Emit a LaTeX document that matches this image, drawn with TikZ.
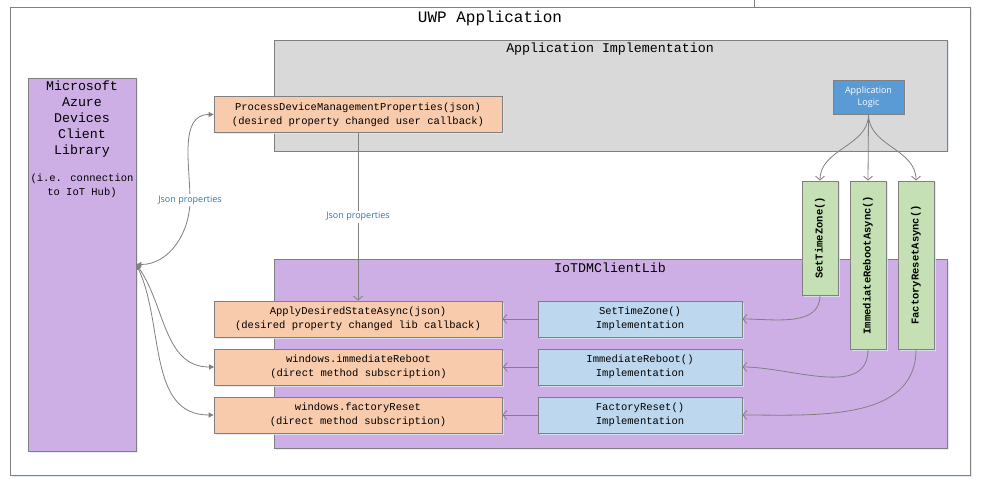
\documentclass[tikz,border=0pt]{standalone}
\usepackage{fontspec}
\setmainfont{Liberation Mono}
\newfontfamily\uilabelfont{Open Sans}
\usetikzlibrary{arrows.meta,shadows}
\definecolor{linegray}{HTML}{808080}
\definecolor{implgray}{HTML}{D9D9D9}
\definecolor{libpurple}{HTML}{CDAFE6}
\definecolor{cborange}{HTML}{F8CBAD}
\definecolor{implblue}{HTML}{BDD7EE}
\definecolor{apigreen}{HTML}{C5E0B4}
\definecolor{logicblue}{HTML}{5B9BD5}
\definecolor{jsonblue}{HTML}{2E75B6}
\definecolor{shadowblue}{HTML}{DCE6F2}
\newcommand\cfont{\fontsize{10.5}{14}\selectfont}
\newcommand\hfont{\fontsize{13.3}{16}\selectfont}
\newcommand\bigtitlefont{\fontsize{16}{18}\selectfont}
\tikzset{
  shbox/.style={draw=linegray, line width=0.8pt, inner sep=0pt, align=center,
    drop shadow={shadow xshift=1.5pt, shadow yshift=-1.5pt, fill=shadowblue, opacity=0.8}},
  cbbox/.style={shbox, fill=cborange, minimum width=288pt, minimum height=36pt, font=\cfont},
  implbox/.style={shbox, fill=implblue, minimum width=204pt, minimum height=36pt, font=\cfont},
  apibox/.style={shbox, fill=apigreen, minimum width=36pt, font=\cfont\bfseries},
  conn/.style={draw=linegray, line width=0.8pt},
  barb/.style={-{Straight Barb[length=4pt,width=9pt]}},
  dtri/.style={{Triangle[length=5pt,width=5pt]}-{Triangle[length=5pt,width=5pt]}},
  jsonlbl/.style={font=\uilabelfont\fontsize{9}{11}\selectfont, text=jsonblue, fill=white, inner sep=1.5pt}
}
\begin{document}
\begin{tikzpicture}[x=1pt,y=1pt]
\useasboundingbox (0,0) rectangle (981,-486);
\fill[white] (0,0) rectangle (981,-486);
% outer frame
\draw[linegray, line width=0.8pt] (754,0) -- (754,-7);
\node[shbox, minimum width=960pt, minimum height=468pt, anchor=north west, fill=white] (uwp) at (10,-7) {};
\node[font=\bigtitlefont] (uwpt) at (490,-18) {UWP Application};
% application implementation
\node[shbox, fill=implgray, minimum width=673pt, minimum height=111pt] (appimpl) at (610.5,-95.5) {};
\node[font=\hfont] (appimplt) at (610,-49) {Application Implementation};
% IoTDMClientLib
\node[shbox, fill=libpurple, minimum width=673pt, minimum height=189pt] (iotlib) at (610.5,-353.5) {};
\node[font=\hfont] (iotlibt) at (610,-268) {IoTDMClientLib};
% azure library
\node[shbox, fill=libpurple, minimum width=108pt, minimum height=373pt] (azure) at (82,-264.5) {};
\node[anchor=north, align=center, inner sep=0pt, font=\hfont] (azuret) at (82,-81)
  {Microsoft\\Azure\\Devices\\Client\\Library};
\node[anchor=north, align=center, inner sep=0pt, font=\cfont] (azuret2) at (82,-174)
  {(i.e. connection\\to IoT Hub)};
% application logic
\node[shbox, fill=logicblue, minimum width=71pt, minimum height=34pt, text=white,
  font=\uilabelfont\fontsize{9}{12.5}\selectfont] (logic) at (868.5,-97) {Application\\Logic};
% callbacks
\node[cbbox] (pd) at (358,-114.5) {ProcessDeviceManagementProperties(json)\\(desired property changed user callback)};
\node[cbbox] (apply) at (358,-319) {ApplyDesiredStateAsync(json)\\(desired property changed lib callback)};
\node[cbbox] (wir) at (358.5,-367) {windows.immediateReboot\\(direct method subscription)};
\node[cbbox] (wfr) at (358,-415) {windows.factoryReset\\(direct method subscription)};
% implementations
\node[implbox] (stzi) at (640,-319) {SetTimeZone()\\Implementation};
\node[implbox] (irbi) at (640,-367) {ImmediateReboot()\\Implementation};
\node[implbox] (frsi) at (640,-415) {FactoryReset()\\Implementation};
% api boxes
\node[apibox, minimum height=114pt] (stz) at (820,-238) {\rotatebox{90}{SetTimeZone()}};
\node[apibox, minimum height=168pt] (irb) at (868,-265) {\rotatebox{90}{ImmediateRebootAsync()}};
\node[apibox, minimum height=168pt] (frs) at (916,-265) {\rotatebox{90}{FactoryResetAsync()}};
% connectors: logic to api
\draw[conn, barb] (logic.south) to[out=-90,in=90] (stz.north);
\draw[conn, barb] (logic.south) -- (irb.north);
\draw[conn, barb] (logic.south) to[out=-90,in=90] (frs.north);
% api to implementation
\draw[conn, barb] (stz.south) to[out=-90,in=0] (stzi.east);
\draw[conn, barb] (irb.south) to[out=-90,in=0] (irbi.east);
\draw[conn, barb] (frs.south) to[out=-90,in=0] (frsi.east);
% implementation to callbacks
\draw[conn, barb] (stzi.west) -- (apply.east);
\draw[conn, barb] (irbi.west) -- (wir.east);
\draw[conn, barb] (frsi.west) -- (wfr.east);
% json properties down
\draw[conn, barb] (pd.south) -- node[jsonlbl] (json2) {Json properties} (apply.north);
% azure connections
\coordinate (jmid) at (190,-200);
\draw[conn, dtri] (azure.east) to[out=0,in=-90] (jmid) to[out=90,in=180] (pd.west);
\node[jsonlbl] (json1) at (jmid) {Json properties};
\draw[conn, dtri] (azure.east) to[out=-55,in=180] (wir.west);
\draw[conn, dtri] (azure.east) to[out=-65,in=180] (wfr.west);
\end{tikzpicture}
\end{document}
